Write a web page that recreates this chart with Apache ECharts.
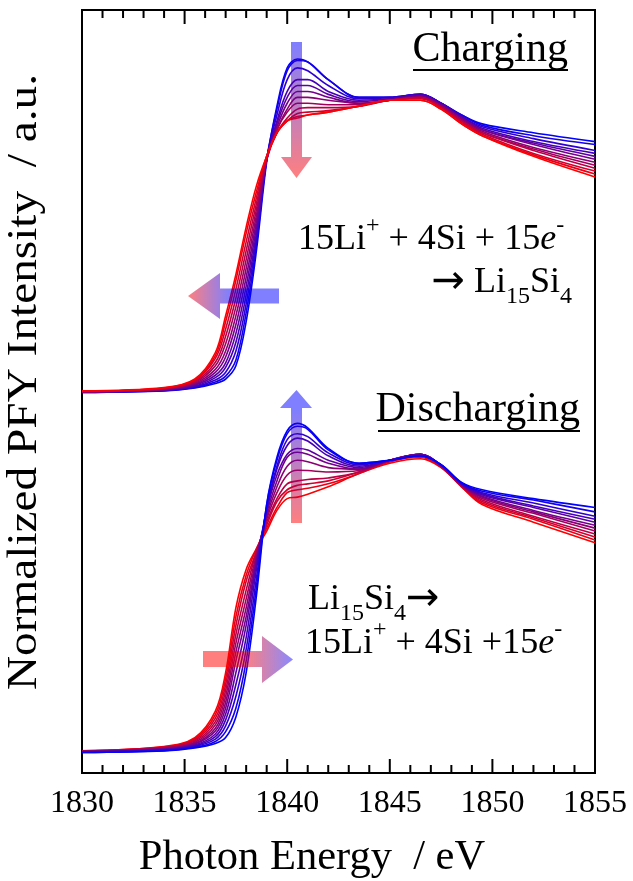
<!DOCTYPE html>
<html><head><meta charset="utf-8">
<script src="https://cdn.jsdelivr.net/npm/echarts@6/dist/echarts.min.js"></script>
<style>html,body{margin:0;padding:0;background:#fff}#c{width:633px;height:881px}</style>
</head><body><div id="c"></div>
<script>
// Photon energy grid (eV)
const energy = [1830, 1834, 1835.5, 1836.5, 1837, 1837.5, 1838, 1838.5, 1839, 1839.5, 1840, 1840.5, 1841, 1842, 1843.5, 1845, 1846.5, 1847.5, 1848.5, 1849.5, 1852, 1855];

// Charging spectra (first = Si, blue ... last = Li15Si4, red), normalized intensity
const chargeSpectra = [
  [0.000,0.005,0.015,0.030,0.045,0.09,0.24,0.48,0.78,0.97,1.10,1.13,1.12,1.06,1.00,1.00,1.01,0.98,0.94,0.91,0.88,0.85],
  [0.000,0.006,0.017,0.035,0.055,0.11,0.27,0.50,0.79,0.96,1.09,1.125,1.12,1.06,1.00,1.00,1.01,0.98,0.94,0.905,0.87,0.84],
  [0.001,0.007,0.019,0.042,0.068,0.14,0.30,0.52,0.79,0.94,1.06,1.10,1.09,1.04,0.995,1.00,1.01,0.98,0.935,0.90,0.86,0.82],
  [0.001,0.008,0.022,0.050,0.085,0.17,0.33,0.54,0.79,0.92,1.02,1.06,1.06,1.02,0.99,0.995,1.01,0.98,0.935,0.895,0.85,0.81],
  [0.002,0.009,0.025,0.058,0.10,0.20,0.36,0.56,0.79,0.91,1.00,1.04,1.04,1.01,0.985,0.995,1.005,0.975,0.93,0.89,0.845,0.80],
  [0.002,0.010,0.028,0.068,0.12,0.23,0.39,0.58,0.79,0.90,0.98,1.02,1.02,1.00,0.98,0.99,1.005,0.975,0.93,0.89,0.84,0.79],
  [0.002,0.011,0.031,0.078,0.14,0.26,0.42,0.60,0.79,0.89,0.96,1.00,1.00,0.99,0.98,0.99,1.0,0.97,0.925,0.885,0.83,0.78],
  [0.003,0.012,0.034,0.090,0.165,0.29,0.45,0.62,0.79,0.89,0.95,0.98,0.98,0.975,0.975,0.99,1.0,0.97,0.92,0.88,0.825,0.77],
  [0.003,0.013,0.037,0.102,0.19,0.32,0.48,0.64,0.79,0.88,0.93,0.96,0.965,0.965,0.97,0.99,1.0,0.965,0.92,0.88,0.82,0.76],
  [0.004,0.014,0.040,0.115,0.215,0.35,0.51,0.66,0.80,0.88,0.92,0.945,0.95,0.955,0.97,0.99,0.995,0.965,0.915,0.875,0.81,0.75],
  [0.004,0.015,0.043,0.125,0.24,0.38,0.54,0.68,0.80,0.88,0.92,0.935,0.94,0.95,0.97,0.99,0.99,0.96,0.91,0.87,0.805,0.74],
  [0.005,0.016,0.046,0.135,0.26,0.40,0.56,0.70,0.80,0.88,0.92,0.93,0.94,0.95,0.97,0.99,0.99,0.96,0.91,0.87,0.80,0.73]
];

// Discharging spectra (first = Li15Si4, red ... last = Si, blue)
const dischargeSpectra = [
  [0.005,0.020,0.050,0.140,0.27,0.49,0.62,0.69,0.75,0.82,0.86,0.865,0.875,0.90,0.945,0.98,0.995,0.965,0.90,0.84,0.78,0.71],
  [0.005,0.019,0.046,0.128,0.25,0.46,0.60,0.69,0.76,0.83,0.88,0.89,0.895,0.91,0.945,0.985,1.0,0.967,0.90,0.845,0.79,0.72],
  [0.004,0.017,0.042,0.116,0.23,0.43,0.58,0.68,0.77,0.85,0.89,0.905,0.91,0.92,0.95,0.985,1.005,0.968,0.902,0.85,0.795,0.73],
  [0.004,0.016,0.038,0.104,0.21,0.40,0.55,0.68,0.78,0.86,0.91,0.92,0.925,0.93,0.95,0.99,1.01,0.97,0.903,0.855,0.80,0.74],
  [0.003,0.014,0.034,0.093,0.19,0.37,0.52,0.67,0.79,0.88,0.94,0.956,0.955,0.95,0.955,0.99,1.01,0.97,0.905,0.86,0.81,0.75],
  [0.003,0.013,0.031,0.082,0.17,0.34,0.49,0.66,0.80,0.90,0.97,0.99,0.985,0.965,0.96,0.99,1.01,0.972,0.906,0.865,0.815,0.76],
  [0.002,0.011,0.028,0.072,0.15,0.31,0.46,0.65,0.81,0.92,1.00,1.017,1.01,0.98,0.96,0.99,1.01,0.972,0.907,0.868,0.82,0.77],
  [0.002,0.010,0.025,0.062,0.13,0.27,0.43,0.64,0.82,0.94,1.01,1.03,1.025,0.99,0.965,0.99,1.01,0.973,0.908,0.872,0.83,0.78],
  [0.001,0.009,0.022,0.053,0.11,0.23,0.39,0.62,0.82,0.96,1.04,1.065,1.055,1.005,0.97,0.99,1.005,0.973,0.91,0.876,0.835,0.79],
  [0.001,0.007,0.020,0.045,0.09,0.19,0.35,0.59,0.83,0.97,1.06,1.08,1.07,1.015,0.975,0.99,1.005,0.974,0.912,0.88,0.845,0.80],
  [0.000,0.006,0.017,0.037,0.07,0.15,0.31,0.56,0.84,0.99,1.08,1.105,1.095,1.025,0.98,0.99,1.005,0.975,0.913,0.885,0.855,0.815],
  [0.000,0.005,0.015,0.030,0.05,0.12,0.27,0.53,0.84,1.00,1.09,1.115,1.10,1.03,0.98,0.99,1.005,0.975,0.915,0.89,0.86,0.83]
];

const chargeOffset = 1.22;
const xTickLabels = ['1830','1835','1840','1845','1850','1855'];
const majorTicks = [1830, 1835, 1840, 1845, 1850, 1855];
const minorTicks = [1831,1832,1833,1834, 1836,1837,1838,1839, 1841,1842,1843,1844, 1846,1847,1848,1849, 1851,1852,1853,1854];
const X_MIN = 1830, X_MAX = 1855, Y_MIN = -0.07, Y_MAX = 2.516;

const FONT = "'Liberation Serif', 'Times New Roman', serif";
function mix(t){ return 'rgb(' + Math.round(255*t) + ',0,' + Math.round(255*(1-t)) + ')'; }
function tickLabel(v){ const i = majorTicks.indexOf(v); return i >= 0 ? xTickLabels[i] : String(v); }

const series = [];
dischargeSpectra.forEach((row, k) => {
  series.push({type:'line', data: energy.map((e,i)=>[e,row[i]]), showSymbol:false,
    smooth:0.35, color: mix(1 - k/(dischargeSpectra.length-1)), lineStyle:{width:1.6}});
});
chargeSpectra.forEach((row, k) => {
  series.push({type:'line', data: energy.map((e,i)=>[e,row[i]+chargeOffset]), showSymbol:false,
    smooth:0.35, color: mix(k/(chargeSpectra.length-1)), lineStyle:{width:1.6}});
});

const blueA = 'rgba(0,0,255,0.5)', redA = 'rgba(255,0,0,0.5)';
const G = echarts.graphic.LinearGradient;
const serifRich = {
  n:{fontFamily:FONT, fontSize:36, lineHeight:52, fill:'#000'},
  i:{fontFamily:FONT, fontSize:36, lineHeight:52, fontStyle:'italic', fill:'#000'},
  a:{fontFamily:"'DejaVu Sans'", fontSize:40, lineHeight:52, fill:'#000'},
  sup:{fontFamily:FONT, fontSize:24, lineHeight:38, verticalAlign:'top', fill:'#000'},
  sub:{fontFamily:FONT, fontSize:24, lineHeight:24, verticalAlign:'bottom', fill:'#000'}
};

const graphics = [
  // arrows
  {type:'polygon', z:100, shape:{points:[[291,42],[302,42],[302,157],[312,157],[296.5,178],[281,157],[291,157]]},
    style:{fill:new G(0,0,0,1,[{offset:0,color:blueA},{offset:1,color:redA}])}},
  {type:'polygon', z:100, shape:{points:[[188,296],[220,273],[220,288.5],[279,288.5],[279,303.5],[220,303.5],[220,319]]},
    style:{fill:new G(0,0,1,0,[{offset:0,color:redA},{offset:0.46,color:blueA},{offset:1,color:blueA}])}},
  {type:'polygon', z:100, shape:{points:[[296.5,390],[312,408],[302,408],[302,523],[291,523],[291,408],[280,408]]},
    style:{fill:new G(0,0,0,1,[{offset:0,color:blueA},{offset:0.15,color:blueA},{offset:1,color:redA}])}},
  {type:'polygon', z:100, shape:{points:[[203,651],[262,651],[262,636],[293,659.5],[262,683],[262,667],[203,667]]},
    style:{fill:new G(0,0,1,0,[{offset:0,color:redA},{offset:0.45,color:redA},{offset:1,color:'rgba(40,40,255,0.55)'}])}},
  // labels
  {type:'text', x:568, y:50, z:100, style:{text:'Charging', fontFamily:FONT, fontSize:42, fill:'#000', align:'right', verticalAlign:'middle'}},
  {type:'line', z:100, shape:{x1:413, y1:70, x2:568, y2:70}, style:{stroke:'#000', lineWidth:2}},
  {type:'text', x:580, y:410, z:100, style:{text:'Discharging', fontFamily:FONT, fontSize:42, fill:'#000', align:'right', verticalAlign:'middle'}},
  {type:'line', z:100, shape:{x1:378, y1:431, x2:580, y2:431}, style:{stroke:'#000', lineWidth:2}},
  {type:'text', x:298, y:240, z:100, style:{text:'{n|15Li}{sup|+}{n| + 4Si + 15}{i|e}{sup|-}', rich:serifRich, align:'left', verticalAlign:'middle'}},
  {type:'text', x:572, y:283, z:100, style:{text:'{a|\u2192}{n| Li}{sub|15}{n|Si}{sub|4}', rich:serifRich, align:'right', verticalAlign:'middle'}},
  {type:'text', x:308, y:600, z:100, style:{text:'{n|Li}{sub|15}{n|Si}{sub|4}{a|\u2192}', rich:serifRich, align:'left', verticalAlign:'middle'}},
  {type:'text', x:305, y:644, z:100, style:{text:'{n|15Li}{sup|+}{n| + 4Si +15}{i|e}{sup|-}', rich:serifRich, align:'left', verticalAlign:'middle'}},
  // axis titles
  {type:'text', x:312, y:858, style:{text:'Photon Energy  / eV', fontFamily:FONT, fontSize:42.5, fill:'#000', align:'center', verticalAlign:'middle'}},
  {type:'text', x:25, y:382, rotation:Math.PI/2, scaleX:1.1, style:{text:'Normalized PFY Intensity  / a.u.', fontFamily:FONT, fontSize:43, fill:'#000', align:'center', verticalAlign:'middle'}}
];

const chart = echarts.init(document.getElementById('c'));
chart.setOption({
  animation:false,
  backgroundColor:'#fff',
  grid:{left:82, right:38, top:10, bottom:108, show:true, borderColor:'#000', borderWidth:2, backgroundColor:'transparent'},
  xAxis:[{type:'value', min:X_MIN, max:X_MAX, interval:5,
    axisLine:{show:true, onZero:false, lineStyle:{color:'#000', width:2}},
    axisTick:{show:false}, minorTick:{show:false}, splitLine:{show:false},
    axisLabel:{fontFamily:FONT, fontSize:32, color:'#000', margin:15, formatter: tickLabel}}],
  yAxis:[{type:'value', min:Y_MIN, max:Y_MAX,
    axisLine:{show:true, onZero:false, lineStyle:{color:'#000', width:2}},
    axisTick:{show:false}, axisLabel:{show:false}, splitLine:{show:false}}],
  series: series
});

// inward tick marks on bottom and top frame edges, positioned through the chart's x scale
const tickEls = [];
function addTicks(values, len){
  values.forEach(v => {
    const b = chart.convertToPixel({xAxisIndex:0, yAxisIndex:0}, [v, Y_MIN]);
    const t = chart.convertToPixel({xAxisIndex:0, yAxisIndex:0}, [v, Y_MAX]);
    tickEls.push({type:'line', z:50, shape:{x1:b[0], y1:b[1], x2:b[0], y2:b[1]-len}, style:{stroke:'#000', lineWidth:2}});
    tickEls.push({type:'line', z:50, shape:{x1:t[0], y1:t[1], x2:t[0], y2:t[1]+len}, style:{stroke:'#000', lineWidth:2}});
  });
}
addTicks(majorTicks, 14);
addTicks(minorTicks, 8);
chart.setOption({graphic: tickEls.concat(graphics)});
</script></body></html>
